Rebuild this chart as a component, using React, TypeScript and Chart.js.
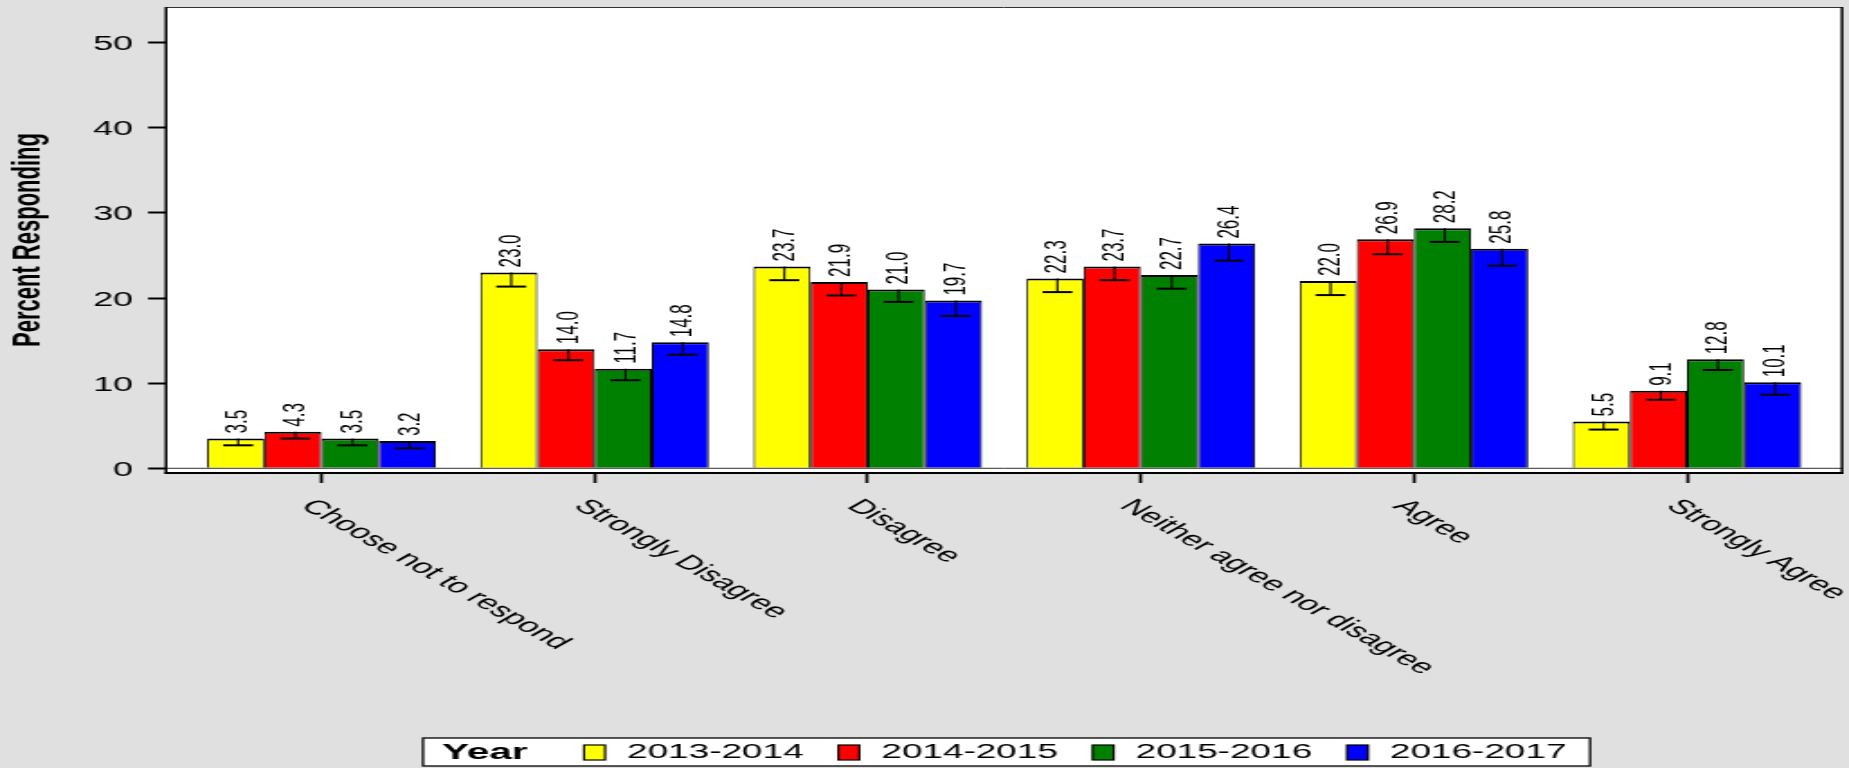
import React, { useEffect, useRef } from 'react';
import { Chart, registerables } from 'chart.js';

Chart.register(...registerables);

// ---------------- data ----------------
const categories = [
  'Choose not to respond',
  'Strongly Disagree',
  'Disagree',
  'Neither agree nor disagree',
  'Agree',
  'Strongly Agree',
];
const years = ['2013-2014', '2014-2015', '2015-2016', '2016-2017'];

const values2013 = [3.5, 23.0, 23.7, 22.3, 22.0, 5.5];
const values2014 = [4.3, 14.0, 21.9, 23.7, 26.9, 9.1];
const values2015 = [3.5, 11.7, 21.0, 22.7, 28.2, 12.8];
const values2016 = [3.2, 14.8, 19.7, 26.4, 25.8, 10.1];

const errors2013 = [0.8, 1.65, 1.6, 1.6, 1.65, 0.95];
const errors2014 = [0.8, 1.3, 1.6, 1.6, 1.75, 1.05];
const errors2015 = [0.8, 1.35, 1.45, 1.6, 1.6, 1.25];
const errors2016 = [0.85, 1.45, 1.8, 2.0, 2.0, 1.45];

const yTicks = [0, 10, 20, 30, 40, 50];

const seriesValues = [values2013, values2014, values2015, values2016];
const seriesErrors = [errors2013, errors2014, errors2015, errors2016];
const colors = ['#FFFF00', '#FF0000', '#008000', '#0000FF'];

// ---------------- layout ----------------
const FULL_W = 1849;
const H = 768;
const W = 1027; // drawing width, stretched horizontally to FULL_W
const SX = FULL_W / W;
const PLOT_LEFT = 166 / SX;
const PLOT_RIGHT = 1842 / SX;
const PLOT_TOP = 7;
const PLOT_BOTTOM = 473;
const CENTER0 = 321.5 / SX;
const PERIOD = 273.1 / SX;
const X_MIN = (PLOT_LEFT - CENTER0) / PERIOD;
const X_MAX = (PLOT_RIGHT - CENTER0) / PERIOD;
const PX_PER_UNIT = 8.512;
const Y_MIN = -(PLOT_BOTTOM - 468.3) / PX_PER_UNIT;
const Y_MAX = Y_MIN + (PLOT_BOTTOM - PLOT_TOP) / PX_PER_UNIT;
const FONT = "'Liberation Sans', Arial, Helvetica, sans-serif";

const line = (ctx: CanvasRenderingContext2D, x1: number, y1: number, x2: number, y2: number, w: number, c: string) => {
  ctx.save();
  ctx.strokeStyle = c;
  ctx.lineWidth = w;
  ctx.beginPath();
  ctx.moveTo(x1, y1);
  ctx.lineTo(x2, y2);
  ctx.stroke();
  ctx.restore();
};

const framePlugin = {
  id: 'framePlugin',
  beforeDraw(chart: any) {
    const { ctx } = chart;
    const { left, right, top, bottom } = chart.chartArea;
    ctx.save();
    ctx.fillStyle = '#E0E0E0';
    ctx.fillRect(0, 0, chart.width, chart.height);
    ctx.fillStyle = '#FFFFFF';
    ctx.fillRect(left, top, right - left, bottom - top);
    ctx.restore();
  },
  afterDatasetsDraw(chart: any) {
    const { ctx } = chart;
    const { left, right, top, bottom } = chart.chartArea;
    const ys = chart.scales.y;
    const xs = chart.scales.x;

    // zero line and top line
    const y0 = ys.getPixelForValue(0);
    line(ctx, left, y0, right, y0, 1, '#333');
    line(ctx, left, top + 0.5, right, top + 0.5, 1, '#333');

    // error bars + value labels
    seriesValues.forEach((vals, d) => {
      const meta = chart.getDatasetMeta(d);
      meta.data.forEach((bar: any, i: number) => {
        const v = vals[i];
        const e = seriesErrors[d][i];
        const x = bar.x + 1.3;
        const yv = ys.getPixelForValue(v);
        const ye = ys.getPixelForValue(v - e);
        line(ctx, x, yv, x, ye, 1.1, '#000');
        line(ctx, x - 8.3, ye, x + 8.3, ye, 2, '#000');
        ctx.save();
        ctx.translate(bar.x + 1.7, yv - 5);
        ctx.rotate(-Math.PI / 2);
        ctx.font = `17px ${FONT}`;
        ctx.fillStyle = '#000';
        ctx.textAlign = 'left';
        ctx.textBaseline = 'middle';
        ctx.fillText(v.toFixed(1), 0, 0);
        ctx.restore();
      });
    });

    // axis frame
    line(ctx, left, top, left, bottom + 1, 1.5, '#000');
    line(ctx, right, top, right, bottom + 1, 1.5, '#000');
    line(ctx, left - 0.75, bottom, right + 0.75, bottom, 2, '#000');

    // x labels (rotated 45deg)
    categories.forEach((c, i) => {
      const px = xs.getPixelForValue(i);
      ctx.save();
      ctx.translate(px - 8.4, 503);
      ctx.rotate(Math.PI / 4);
      ctx.font = `20px ${FONT}`;
      ctx.fillStyle = '#000';
      ctx.textAlign = 'left';
      ctx.textBaseline = 'middle';
      ctx.fillText(c, 0, 0);
      ctx.restore();
    });

    // legend
    const lx = 423 / SX;
    const lr = 1590 / SX;
    const lt = 738;
    const lb = 766;
    const ly = 752.5;
    ctx.save();
    ctx.fillStyle = '#FFFFFF';
    ctx.fillRect(lx, lt, lr - lx, lb - lt);
    ctx.strokeStyle = '#000';
    ctx.lineWidth = 1.3;
    ctx.strokeRect(lx, lt, lr - lx, lb - lt);
    ctx.fillStyle = '#000';
    ctx.textBaseline = 'middle';
    ctx.textAlign = 'left';
    ctx.font = `bold 22.5px ${FONT}`;
    ctx.fillText('Year', 442 / SX, ly);
    ctx.font = `20.5px ${FONT}`;
    years.forEach((y, i) => {
      const sx = 584 / SX + i * (254.3 / SX);
      ctx.fillStyle = colors[i];
      ctx.fillRect(sx, 745, 11.7, 15);
      ctx.strokeStyle = '#000';
      ctx.lineWidth = 1.2;
      ctx.strokeRect(sx, 745, 11.7, 15);
      ctx.fillStyle = '#000';
      ctx.fillText(y, sx + 23.9, ly);
    });
    ctx.restore();
  },
};

export default function App() {
  const ref = useRef<HTMLCanvasElement | null>(null);

  useEffect(() => {
    document.body.style.margin = '0';
    document.body.style.background = '#E0E0E0';
    const canvas = ref.current;
    if (!canvas) return;
    Chart.defaults.font.family = FONT;
    const chart = new Chart(canvas, {
      type: 'bar',
      data: {
        datasets: years.map((y, d) => ({
          label: y,
          data: seriesValues[d].map((v, i) => ({ x: i, y: v })),
          backgroundColor: colors[d],
          borderColor: '#000',
          borderWidth: { top: 2, left: 1, right: 1, bottom: 0 },
          categoryPercentage: 0.837,
          barPercentage: 1,
        })),
      },
      options: {
        responsive: false,
        animation: false,
        devicePixelRatio: 1,
        layout: { padding: { left: 0, top: PLOT_TOP, right: W - PLOT_RIGHT, bottom: 0 } },
        plugins: { legend: { display: false }, tooltip: { enabled: false } },
        scales: {
          x: {
            type: 'linear',
            bounds: 'data',
            offset: false,
            min: X_MIN,
            max: X_MAX,
            afterBuildTicks: (s: any) => {
              s.ticks = categories.map((_, i) => ({ value: i }));
            },
            afterFit: (s: any) => {
              s.height = H - PLOT_BOTTOM;
              s.paddingLeft = 0;
              s.paddingRight = 0;
              s.paddingTop = 0;
              s.paddingBottom = 0;
            },
            ticks: { display: false },
            grid: {
              offset: false,
              drawOnChartArea: false,
              drawTicks: true,
              tickLength: 10,
              color: '#000',
              tickColor: '#000',
              tickWidth: 1.7,
            },
            border: { display: false },
          },
          y: {
            type: 'linear',
            bounds: 'data',
            min: Y_MIN,
            max: Y_MAX,
            afterBuildTicks: (s: any) => {
              s.ticks = yTicks.map((v) => ({ value: v }));
            },
            afterFit: (s: any) => {
              s.width = PLOT_LEFT;
              s.paddingTop = 0;
              s.paddingBottom = 0;
              s.paddingLeft = 0;
              s.paddingRight = 0;
            },
            ticks: {
              padding: 8.3,
              color: '#000',
              font: { size: 20, family: FONT },
              labelOffset: 2,
              callback: (v: any) => String(v),
            },
            grid: {
              drawOnChartArea: false,
              drawTicks: true,
              tickLength: 10,
              color: '#000',
              tickColor: '#000',
              tickWidth: 2,
            },
            border: { display: false },
            title: {
              display: true,
              text: 'Percent Responding',
              color: '#000',
              font: { size: 22, weight: 'bold', family: FONT },
              padding: { top: 2.7, bottom: 0 },
            },
          },
        },
      } as any,
      plugins: [framePlugin],
    });
    return () => chart.destroy();
  }, []);

  return (
    <canvas
      ref={ref}
      width={W}
      height={H}
      style={{ display: 'block', width: `${FULL_W}px`, height: `${H}px` }}
    />
  );
}
